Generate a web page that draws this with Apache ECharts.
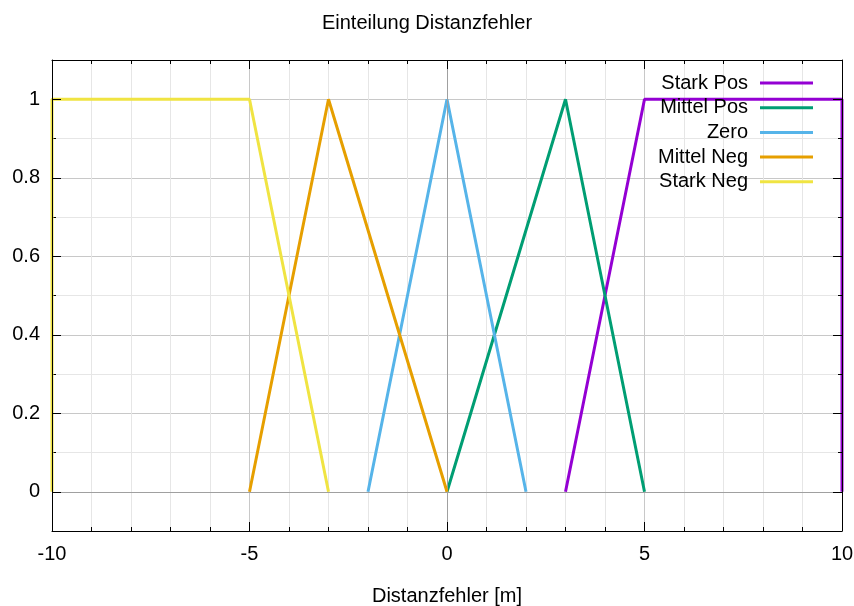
<!DOCTYPE html>
<html>
<head>
<meta charset="utf-8">
<script src="https://cdn.jsdelivr.net/npm/echarts@6/dist/echarts.min.js"></script>
<style>html,body{margin:0;padding:0;background:#fff}#c{width:854px;height:606px}</style>
</head>
<body>
<div id="c"></div>
<script>
const titleText = 'Einteilung Distanzfehler';
const xAxisName = 'Distanzfehler [m]';
const seriesNames = ['Stark Pos', 'Mittel Pos', 'Zero', 'Mittel Neg', 'Stark Neg'];
const seriesColors = ['#9400d3', '#009e73', '#56b4e9', '#e69f00', '#f0e442'];
const starkPos = [[3, 0], [5, 1], [10, 1], [10, 0]];
const mittelPos = [[0, 0], [3, 1], [5, 0]];
const zero = [[-2, 0], [0, 1], [2, 0]];
const mittelNeg = [[-5, 0], [-3, 1], [0, 0]];
const starkNeg = [[-10, 0], [-10, 1], [-5, 1], [-3, 0]];
const yMajorTicks = [0, 0.2, 0.4, 0.6, 0.8, 1];
const xMajorTicks = [-10, -5, 0, 5, 10];

const FONT = 'Liberation Sans, Arial, sans-serif';
const FS = 20;
const chart = echarts.init(document.getElementById('c'), null, {renderer: 'canvas'});
const seriesData = [starkPos, mittelPos, zero, mittelNeg, starkNeg];

const baseX = {type: 'value', min: -10, max: 10, gridIndex: 0};
const baseY = {type: 'value', min: -0.1, max: 1.1, gridIndex: 0};
const noZero = (c) => Object.assign({onZero: false}, c);

const series = [{
  type: 'line', data: [], z: 1, silent: true,
  xAxisIndex: 0, yAxisIndex: 0,
  markLine: {
    symbol: 'none', silent: true, label: {show: false},
    lineStyle: {color: '#a0a0a0', width: 1, type: 'solid'},
    data: [{xAxis: 0}, {yAxis: 0}]
  }
}];
seriesNames.forEach((n, i) => {
  series.push({
    name: n, type: 'line', data: seriesData[i], xAxisIndex: 0, yAxisIndex: 0,
    showSymbol: false, symbol: 'none', z: 2 + i,
    lineStyle: {color: seriesColors[i], width: 3},
    itemStyle: {color: seriesColors[i]},
    animation: false
  });
});

chart.setOption({
  animation: false,
  backgroundColor: '#fff',
  title: {
    text: titleText, left: 'center', top: 7,
    textStyle: {fontFamily: FONT, fontSize: FS, fontWeight: 'normal', color: '#000', lineHeight: 22}
  },
  legend: {
    data: seriesNames, orient: 'vertical', align: 'right',
    right: 36, top: 68, itemWidth: 53, itemHeight: 3, itemGap: 4.7, icon: 'rect',
    textStyle: {fontFamily: FONT, fontSize: FS, color: '#000', lineHeight: 20, padding: [0, 7, 0, 0]},
    selectedMode: false
  },
  grid: {left: 52, right: 12, top: 60, bottom: 75, containLabel: false, outerBoundsMode: 'none'},
  xAxis: [
    Object.assign({}, baseX, {position: 'bottom', interval: 1, z: 0,
      axisLine: noZero({show: false}), axisLabel: {show: false},
      axisTick: {show: true, inside: true, length: 4, lineStyle: {color: '#000'}},
      splitLine: {show: true, lineStyle: {color: ['#c8c8c8', '#e6e6e6', '#e6e6e6', '#e6e6e6', '#e6e6e6'], width: 1}}}),
    Object.assign({}, baseX, {position: 'bottom', interval: 5, z: 10,
      name: xAxisName, nameLocation: 'middle', nameGap: 55,
      nameTextStyle: {fontFamily: FONT, fontSize: FS, color: '#000'},
      axisLine: noZero({show: true, lineStyle: {color: '#000', width: 1}}),
      axisTick: {show: true, inside: true, length: 9, lineStyle: {color: '#000'}},
      axisLabel: {show: true, margin: 13, fontFamily: FONT, fontSize: FS, color: '#000'},
      splitLine: {show: false}}),
    Object.assign({}, baseX, {position: 'top', interval: 1, z: 10,
      axisLine: noZero({show: true, lineStyle: {color: '#000', width: 1}}), axisLabel: {show: false},
      axisTick: {show: true, inside: true, length: 4, lineStyle: {color: '#000'}},
      splitLine: {show: false}}),
    Object.assign({}, baseX, {position: 'top', interval: 5, z: 10,
      axisLine: noZero({show: false}), axisLabel: {show: false},
      axisTick: {show: true, inside: true, length: 9, lineStyle: {color: '#000'}},
      splitLine: {show: false}})
  ],
  yAxis: [
    Object.assign({}, baseY, {position: 'left', interval: 0.1, z: 0,
      axisLine: noZero({show: false}), axisLabel: {show: false},
      axisTick: {show: true, inside: true, length: 4, lineStyle: {color: '#000'}},
      splitLine: {show: true, lineStyle: {color: ['#e6e6e6', '#c8c8c8'], width: 1}}}),
    Object.assign({}, baseY, {position: 'left', z: 10,
      axisLine: noZero({show: true, lineStyle: {color: '#000', width: 1}}),
      axisTick: {show: true, inside: true, length: 9, customValues: yMajorTicks, lineStyle: {color: '#000'}},
      axisLabel: {show: true, customValues: yMajorTicks, margin: 12, fontFamily: FONT, fontSize: FS, color: '#000',
        formatter: v => String(Math.round(v * 10) / 10)},
      splitLine: {show: false}}),
    Object.assign({}, baseY, {position: 'right', interval: 0.1, z: 10,
      axisLine: noZero({show: true, lineStyle: {color: '#000', width: 1}}), axisLabel: {show: false},
      axisTick: {show: true, inside: true, length: 4, lineStyle: {color: '#000'}},
      splitLine: {show: false}}),
    Object.assign({}, baseY, {position: 'right', z: 10,
      axisLine: noZero({show: false}), axisLabel: {show: false},
      axisTick: {show: true, inside: true, length: 9, customValues: yMajorTicks, lineStyle: {color: '#000'}},
      splitLine: {show: false}})
  ],
  series: series
});
</script>
</body>
</html>
